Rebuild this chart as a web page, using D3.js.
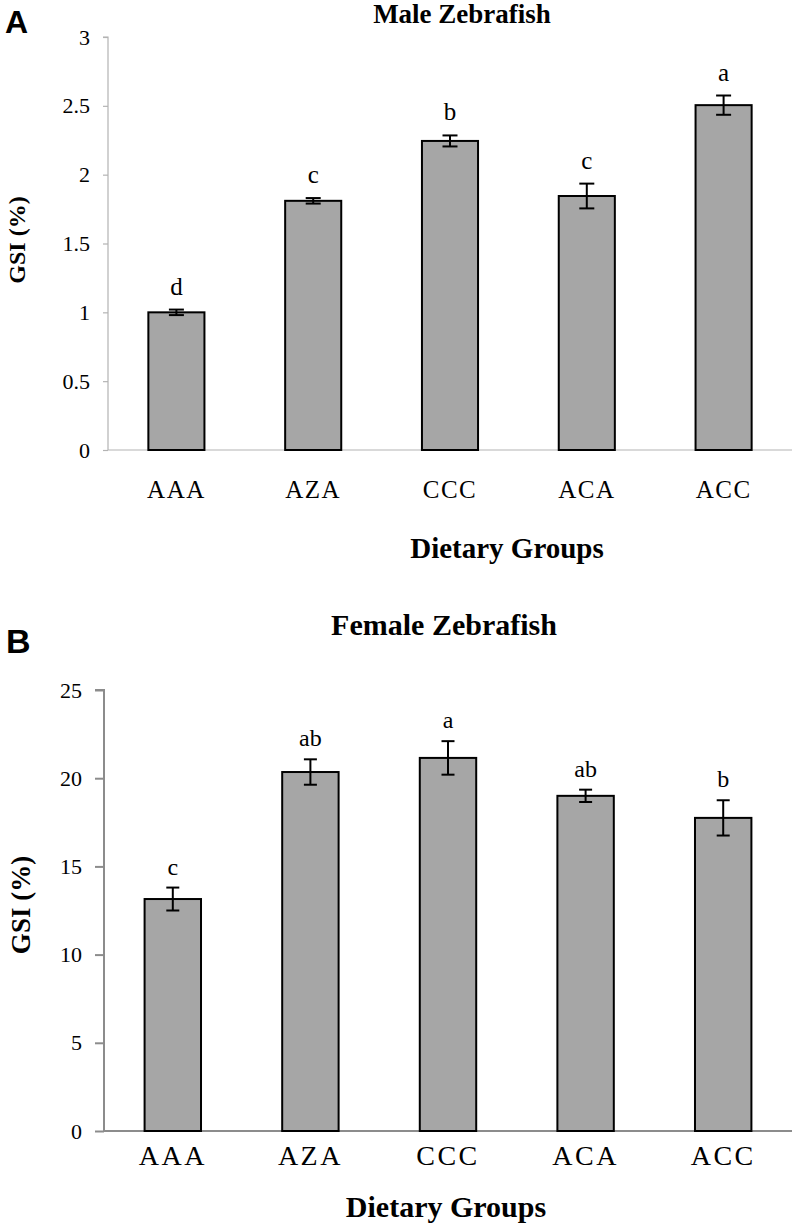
<!DOCTYPE html>
<html>
<head>
<meta charset="utf-8">
<script src="https://cdn.jsdelivr.net/npm/d3@7"></script>
<style>
html,body{margin:0;padding:0;background:#fff;}
svg{display:block;}
</style>
</head>
<body>
<svg id="chart" width="792" height="1228"></svg>
<script>
const categories = ["AAA","AZA","CCC","ACA","ACC"];
const maleGSI = [1.00, 1.81, 2.245, 1.845, 2.505];
const maleErr = [0.02, 0.02, 0.04, 0.09, 0.07];
const maleLetters = ["d","c","b","c","a"];
const maleTicks = [0, 0.5, 1, 1.5, 2, 2.5, 3];
const maleTickLabels = ["0","0.5","1","1.5","2","2.5","3"];

const femaleGSI = [13.15, 20.35, 21.15, 19.0, 17.75];
const femaleErr = [0.65, 0.72, 0.95, 0.35, 1.0];
const femaleLetters = ["c","ab","a","ab","b"];
const femaleTicks = [0, 5, 10, 15, 20, 25];
const femaleTickLabels = ["0","5","10","15","20","25"];

const svg = d3.select("#chart");
const serif = "'Liberation Serif', 'Times New Roman', serif";
const sans = "'Liberation Sans', Arial, sans-serif";

function panel(cfg) {
  const g = svg.append("g");
  const x = d3.scaleBand().domain(categories).range([cfg.x0, cfg.x1]).paddingInner(cfg.padInner).paddingOuter(cfg.padOuter);
  const y = d3.scaleLinear().domain([0, cfg.ymax]).range([cfg.y0, cfg.y1]);

  // y axis
  const ya = d3.axisLeft(y).tickValues(cfg.ticks).tickFormat((d,i)=>cfg.tickLabels[i])
    .tickSize(cfg.tickLen).tickPadding(cfg.tickPad);
  const yg = g.append("g").attr("transform", `translate(${cfg.x0},0)`).call(ya);
  yg.select(".domain").attr("stroke", cfg.axisColor).attr("stroke-width", cfg.axisWidth)
    .attr("d", `M${-cfg.tickLen},${cfg.y1}H0V${cfg.y0}`);
  yg.selectAll(".tick line").attr("stroke", cfg.axisColor).attr("stroke-width", cfg.axisWidth);
  yg.selectAll(".tick text").attr("font-family", serif).attr("font-size", cfg.tickFont).attr("fill", "#000");

  // x axis
  const xa = d3.axisBottom(x).tickSize(0).tickPadding(0);
  const xg = g.append("g").attr("transform", `translate(0,${cfg.y0})`).call(xa);
  xg.select(".domain").attr("stroke", cfg.axisColor).attr("stroke-width", cfg.axisWidth)
    .attr("d", `M${cfg.x0},0H${cfg.x1}`);
  xg.selectAll(".tick text").attr("font-family", serif).attr("font-size", cfg.catFont)
    .attr("letter-spacing", cfg.catSpacing).attr("fill", "#000")
    .attr("y", cfg.catOffset).attr("dy", 0);

  // bars
  g.selectAll("rect.bar").data(cfg.values).enter().append("rect")
    .attr("x", (d,i)=>x(categories[i]))
    .attr("y", d=>y(d))
    .attr("width", x.bandwidth())
    .attr("height", d=>y(0)-y(d))
    .attr("fill", "#a6a6a6").attr("stroke", "#000").attr("stroke-width", 2);

  // error bars
  const eb = g.selectAll("g.err").data(cfg.values).enter().append("g");
  eb.append("line")
    .attr("x1", (d,i)=>x(categories[i])+x.bandwidth()/2)
    .attr("x2", (d,i)=>x(categories[i])+x.bandwidth()/2)
    .attr("y1", (d,i)=>y(d+cfg.errs[i]))
    .attr("y2", (d,i)=>y(d-cfg.errs[i]))
    .attr("stroke", "#000").attr("stroke-width", 2);
  [1,-1].forEach(s=>{
    eb.append("line")
      .attr("x1", (d,i)=>x(categories[i])+x.bandwidth()/2-cfg.cap/2)
      .attr("x2", (d,i)=>x(categories[i])+x.bandwidth()/2+cfg.cap/2)
      .attr("y1", (d,i)=>y(d+s*cfg.errs[i]))
      .attr("y2", (d,i)=>y(d+s*cfg.errs[i]))
      .attr("stroke", "#000").attr("stroke-width", 2);
  });

  // letters
  g.selectAll("text.sig").data(cfg.values).enter().append("text")
    .attr("x", (d,i)=>x(categories[i])+x.bandwidth()/2)
    .attr("y", (d,i)=>y(d+cfg.errs[i]) - cfg.letterGap)
    .attr("text-anchor", "middle")
    .attr("font-family", serif).attr("font-size", cfg.letterFont)
    .text((d,i)=>cfg.letters[i]);

  // title
  g.append("text").attr("x", cfg.titleX).attr("y", cfg.titleY).attr("text-anchor","middle")
    .attr("font-family", serif).attr("font-weight","bold").attr("font-size", cfg.titleFont)
    .text(cfg.title);
  // x title
  g.append("text").attr("x", cfg.xtX).attr("y", cfg.xtY).attr("text-anchor","middle")
    .attr("font-family", serif).attr("font-weight","bold").attr("font-size", cfg.xtFont)
    .text("Dietary Groups");
  // y title
  g.append("text").attr("transform", `translate(${cfg.ytX},${cfg.ytY}) rotate(-90)`)
    .attr("text-anchor","middle")
    .attr("font-family", serif).attr("font-weight","bold").attr("font-size", cfg.ytFont)
    .text("GSI (%)");
  // panel letter
  g.append("text").attr("x", cfg.plX).attr("y", cfg.plY)
    .attr("font-family", sans).attr("font-weight","bold").attr("font-size", cfg.plFont)
    .text(cfg.panelLetter);
}

panel({
  x0:108, x1:792, y0:450, y1:37, ymax:3,
  padInner:0.59, padOuter:0.295,
  ticks:maleTicks, tickLabels:maleTickLabels, tickLen:5, tickPad:13, tickFont:22,
  axisColor:"#b3b3b3", axisWidth:1.2,
  catFont:25, catSpacing:1.5, catOffset:48,
  values:maleGSI, errs:maleErr, letters:maleLetters, cap:15, letterGap:15, letterFont:25,
  title:"Male Zebrafish", titleX:462, titleY:23, titleFont:27,
  xtX:507, xtY:558, xtFont:29,
  ytX:25, ytY:240, ytFont:24,
  panelLetter:"A", plX:5, plY:33, plFont:32
});

panel({
  x0:104, x1:792, y0:1131, y1:690, ymax:25,
  padInner:0.59, padOuter:0.295,
  ticks:femaleTicks, tickLabels:femaleTickLabels, tickLen:9, tickPad:13, tickFont:22,
  axisColor:"#8c8c8c", axisWidth:2,
  catFont:28, catSpacing:2.5, catOffset:34,
  values:femaleGSI, errs:femaleErr, letters:femaleLetters, cap:13, letterGap:13, letterFont:24,
  title:"Female Zebrafish", titleX:444, titleY:635, titleFont:30,
  xtX:446, xtY:1217, xtFont:30,
  ytX:30, ytY:905, ytFont:27,
  panelLetter:"B", plX:6, plY:653, plFont:34
});
</script>
</body>
</html>
